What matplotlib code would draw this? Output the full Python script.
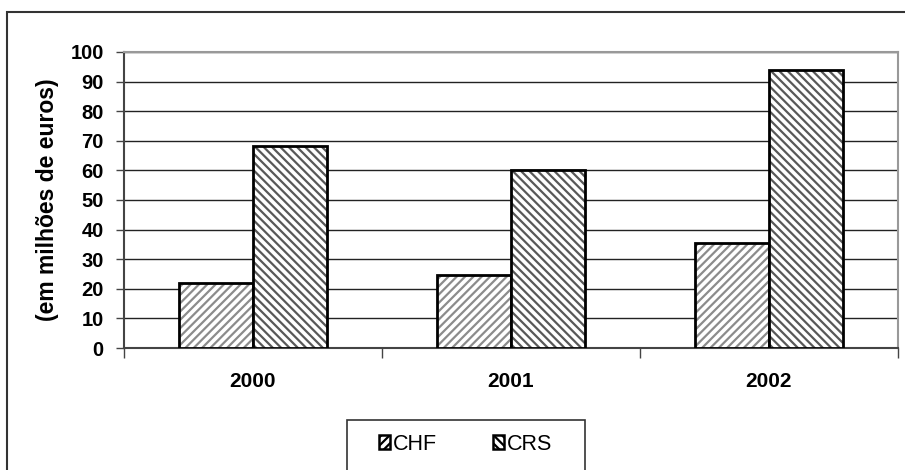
import numpy as np
import matplotlib
matplotlib.use("Agg")
import matplotlib.pyplot as plt
from matplotlib.patches import Rectangle, Patch

plt.rcParams["font.family"] = ["Liberation Sans", "DejaVu Sans"]
plt.rcParams["hatch.linewidth"] = 1.6

years = ["2000", "2001", "2002"]
chf = [21.8, 24.8, 35.5]
crs = [68.4, 60.3, 94.0]
series_names = ["CHF", "CRS"]

W, H = 905, 470
fig = plt.figure(figsize=(W / 100, H / 100), dpi=100)

# outer chart frame (runs off the right and bottom edges)
fig.patches.append(Rectangle((7 / W, -0.1), 1.2, 1 - 12 / H + 0.1,
                             transform=fig.transFigure, fill=False,
                             edgecolor="#333333", linewidth=1.5))

ax = fig.add_axes([124 / W, 1 - 348 / H, (898 - 124) / W, (348 - 52) / H])

x = np.arange(len(years))
bw = 0.285
ax.bar(x - bw / 2, chf, bw, facecolor="white", edgecolor="black",
       hatch="////", linewidth=2, zorder=3)
ax.bar(x + bw / 2, crs, bw, facecolor="white", edgecolor="black",
       hatch="\\\\\\\\", linewidth=2, zorder=3)
# hatch colours
for i, b in enumerate(ax.patches):
    b._hatch_color = (0.55, 0.55, 0.55, 1) if i < 3 else (0.35, 0.35, 0.35, 1)

ax.set_xlim(-0.5, 2.5)
ax.set_ylim(0, 100)
ax.set_yticks(range(0, 101, 10))
ax.yaxis.grid(True, color="#222222", linewidth=1.0, zorder=0)
ax.set_axisbelow(True)

for s in ["top", "right"]:
    ax.spines[s].set_color("#999999")
    ax.spines[s].set_linewidth(1.5)
ax.spines["left"].set_color("#444444")
ax.spines["left"].set_linewidth(1.5)
ax.spines["bottom"].set_color("#444444")
ax.spines["bottom"].set_linewidth(1.5)

ax.set_xticks([-0.5, 0.5, 1.5, 2.5])
ax.set_xticklabels([])
ax.set_xticks(x, minor=True)
ax.set_xticklabels(years, minor=True, fontweight="bold", fontsize=15)
ax.tick_params(axis="x", which="major", length=7, width=1, direction="out",
               color="#444444")
ax.tick_params(axis="x", which="minor", length=0, pad=17)
ax.tick_params(axis="y", length=5.5, width=1, color="#444444", pad=9,
               labelsize=14.5)
for lab in ax.get_yticklabels():
    lab.set_fontweight("bold")

ax.set_ylabel("(em milhões de euros)", fontsize=16.5, fontweight="bold",
              labelpad=8)

# legend box (runs off the bottom edge)
fig.patches.append(Rectangle((347 / W, -0.1), (585 - 347) / W, 0.1 + 1 - 420 / H,
                             transform=fig.transFigure, fill=False,
                             edgecolor="#333333", linewidth=1.2))
handles = [Patch(facecolor="white", edgecolor="black", hatch="////", linewidth=1.8),
           Patch(facecolor="white", edgecolor="black", hatch="\\\\\\\\", linewidth=1.8)]
fig.legend(handles, series_names, loc="center", ncol=2,
           bbox_to_anchor=(466 / W, 1 - 444 / H), frameon=False,
           handlelength=0.5, handleheight=0.6, handletextpad=0.15,
           columnspacing=2.6, fontsize=15.5)

fig.savefig("out.png", dpi=100)
